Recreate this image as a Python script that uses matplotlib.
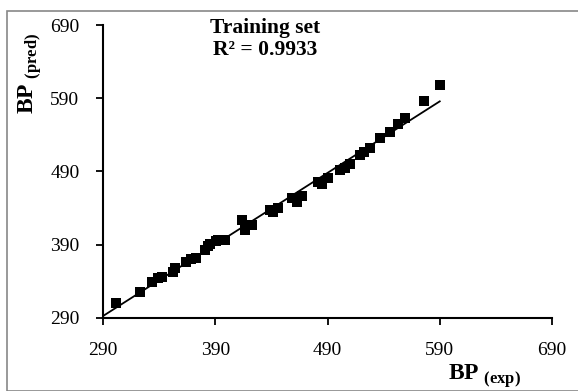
import numpy as np
import matplotlib.pyplot as plt
from matplotlib.patches import Rectangle

plt.rcParams['font.family'] = 'Liberation Serif'
plt.rcParams['mathtext.fontset'] = 'custom'
plt.rcParams['mathtext.rm'] = 'Liberation Serif'
plt.rcParams['mathtext.bf'] = 'Liberation Serif:bold'

# training set values
bp_exp = [301.6, 323, 333.6, 339, 342.5, 352, 354, 364, 368, 372.8,
          380.8, 383.5, 385, 390.6, 392.4, 398.6, 413.8, 416.4, 422.7, 438.7,
          441.4, 445.8, 458.3, 462.8, 467.2, 481.5, 485, 490.4, 501, 505.5,
          510, 518.8, 522.4, 527.8, 536.7, 545.6, 552.7, 559, 576, 590]
bp_pred = [310.5, 325.5, 339, 344.6, 346, 353, 358, 366.5, 370.6, 372,
           383, 388, 391, 395, 396.6, 396.6, 424, 410, 417, 437.5,
           434.8, 440, 454, 448.5, 456.7, 475.8, 473, 481, 492, 495,
           500, 512.7, 516.8, 522, 536, 544, 555, 563, 586, 608]
ticks = [290, 390, 490, 590, 690]

x = np.array(bp_exp)
y = np.array(bp_pred)
slope, icpt = np.polyfit(x, y, 1)

fig = plt.figure(figsize=(5.78, 3.91), dpi=100)
ax = fig.add_axes([103/578, 1-318/391, 449/578, 293/391])

ax.scatter(x, y, marker='s', s=60, color='black', zorder=3, linewidths=0)
lx = np.array([290, x.max()])
ax.plot(lx, slope*lx + icpt, color='black', lw=1.3, zorder=2)

ax.set_xlim(290, 690)
ax.set_ylim(290, 690)
ax.set_xticks(ticks)
ax.set_yticks(ticks)
ax.tick_params(labelsize=14, length=5, width=1.3)
ax.tick_params(axis='x', pad=12)
ax.tick_params(axis='y', pad=12)
for s in ['top', 'right']:
    ax.spines[s].set_visible(False)
for s in ['left', 'bottom']:
    ax.spines[s].set_linewidth(1.5)

fig.text(265/578, 1-39/391, 'Training set\nR² = 0.9933', ha='center', va='center',
         fontsize=15.5, fontweight='bold', linespacing=1.1)
fig.text(30/578, 1-73/391, r'$\mathbf{BP}_{\ \mathbf{(pred)}}$', rotation=90,
         ha='center', va='center', fontsize=17)
fig.text(484/578, 1-376/391, r'$\mathbf{BP}_{\ \mathbf{(exp)}}$',
         ha='center', va='center', fontsize=17)

fig.patches.append(Rectangle((7/578, 0), 1, 1-11/391, transform=fig.transFigure,
                             fill=False, edgecolor='#888888', lw=1.2))

fig.savefig('out.png', dpi=100)
